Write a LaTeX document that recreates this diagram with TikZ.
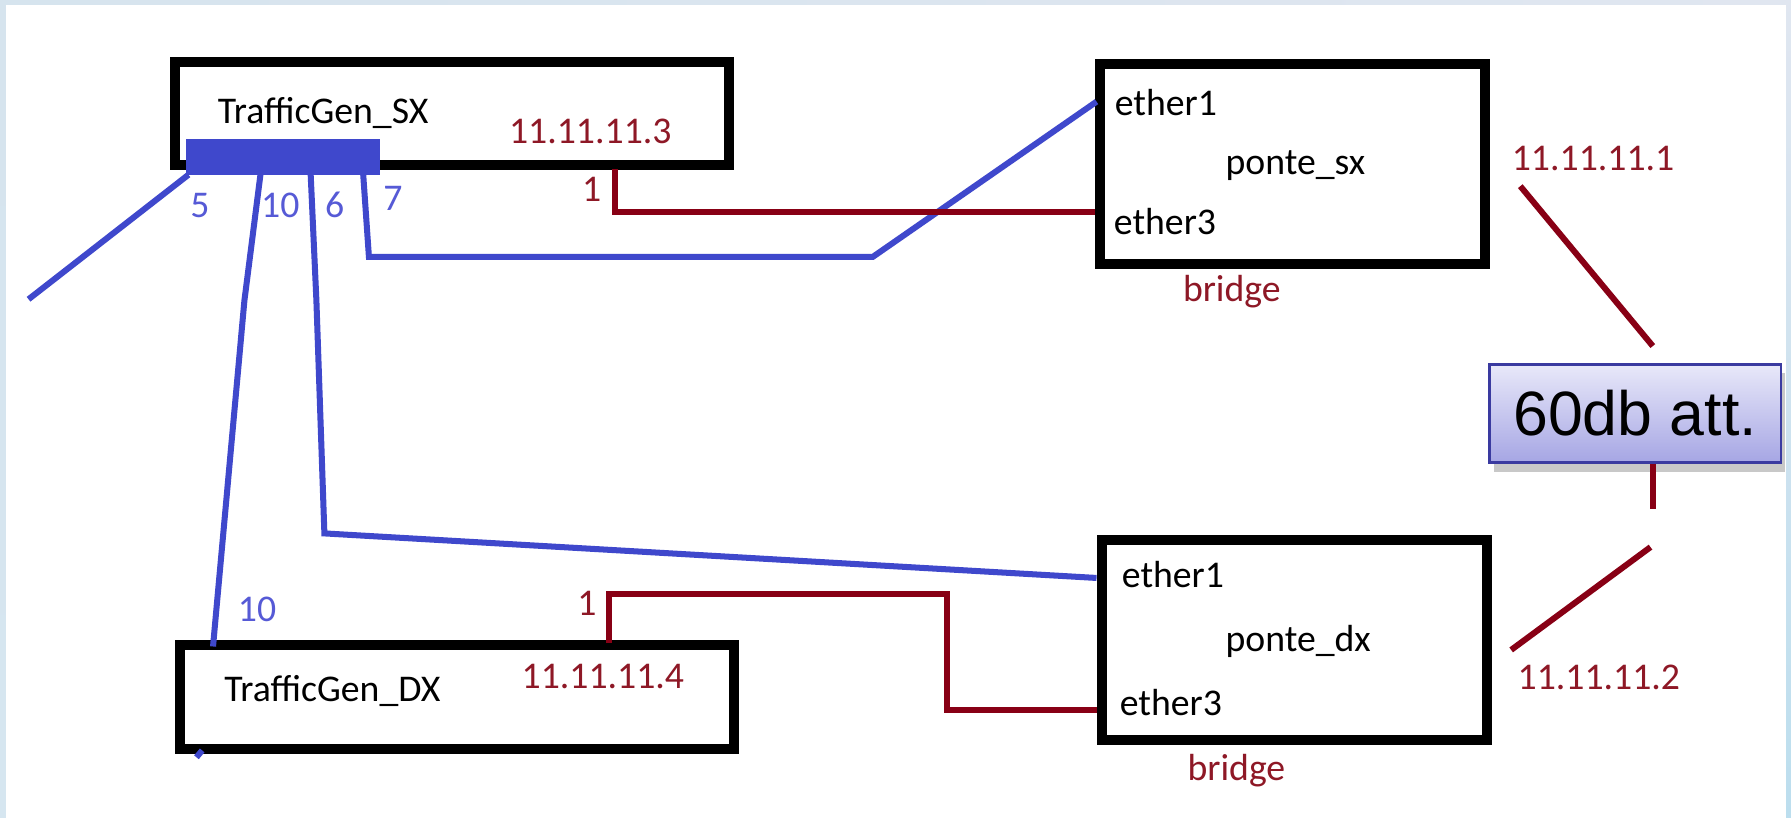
\documentclass[tikz,border=0pt]{standalone}
\usepackage{fontspec}
\setmainfont{Carlito}
\newfontfamily\arialfont{Liberation Sans}
\usetikzlibrary{calc,shadows}

\definecolor{paintblue}{RGB}{63,72,204}
\definecolor{portblue}{RGB}{86,90,214}
\definecolor{wirered}{RGB}{136,0,21}
\definecolor{labelred}{RGB}{142,24,38}
\definecolor{frameTop}{RGB}{214,228,238}
\definecolor{frameTopR}{RGB}{224,230,240}
\definecolor{frameBotR}{RGB}{188,222,238}
\definecolor{frameBotL}{RGB}{214,230,240}
\definecolor{attTop}{RGB}{232,232,249}
\definecolor{attBot}{RGB}{166,166,228}
\definecolor{attEdge}{RGB}{58,58,160}

\begin{document}
\begin{tikzpicture}[x=0.1mm,y=-0.1mm,
  devbox/.style={draw=black, line width=2.5pt, fill=white, inner sep=0pt},
  portstrip/.style={fill=paintblue, inner sep=0pt},
  bluewire/.style={draw=paintblue, line width=1.5pt, line join=miter},
  redwire/.style={draw=wirered, line width=1.5pt, line join=miter},
  txt/.style={font=\fontsize{9.4}{11}\selectfont, inner sep=0pt, anchor=base west},
  redtxt/.style={txt, text=labelred},
  porttxt/.style={txt, text=portblue},
  attbox/.style={draw=attEdge, line width=0.6pt, top color=attTop, bottom color=attBot,
    inner sep=0pt, font=\arialfont\fontsize{15.6}{18}\selectfont,
    drop shadow={shadow xshift=0.4mm, shadow yshift=-0.8mm, opacity=0.3, fill=black!70}}
]
\useasboundingbox (0,0) rectangle (1568,716);

% window frame around the drawing area
\shade[left color=frameTop, right color=frameTopR] (0,0) rectangle (1568,4.5);
\shade[top color=frameTop, bottom color=frameBotL] (0,0) rectangle (5.3,716);
\shade[top color=frameTopR, bottom color=frameBotR] (1563.5,0) rectangle (1568,716);
\fill[white] (5.3,4.5) rectangle (1563.5,716);

% devices
\node[devbox, minimum width=48.5mm, minimum height=9mm] (sxgen) at (396,99.5) {};
\node[devbox, minimum width=48.5mm, minimum height=9.1mm] (dxgen) at (399.8,610) {};
\node[devbox, minimum width=33.7mm, minimum height=17.5mm] (pontesx) at (1131.5,143.7) {};
\node[devbox, minimum width=33.7mm, minimum height=17.5mm] (pontedx) at (1133,560) {};
\node[attbox, minimum width=25.5mm, minimum height=8.6mm] (att) at (1431.5,362) {60db att.};

% wire end points
\coordinate (p5) at (165,153);
\coordinate (p5end) at (25,262);
\coordinate (p10) at (228,153);
\coordinate (p10mid) at (214,263);
\coordinate (dxp10) at (186.5,566);
\coordinate (p6) at (272,153);
\coordinate (p6mid) at (277,263);
\coordinate (p6turn) at (284,467);
\coordinate (dxe1) at (960,506);
\coordinate (p7) at (318,153);
\coordinate (p7turn) at (323,225);
\coordinate (p7bend) at (764,225);
\coordinate (sxe1) at (960,89);
\coordinate (sxp1) at (538,148);
\coordinate (sxe3) at (959,186);
\coordinate (dxp1) at (533,563);
\coordinate (dxturn) at (829,520);
\coordinate (dxe3) at (960,622);
\coordinate (sxant) at (1331,163);
\coordinate (atttop) at (1447,303);
\coordinate (attlow) at (1447,446);
\coordinate (dxant0) at (1445,479);
\coordinate (dxant) at (1323,569);
\coordinate (stubA) at (172,663);
\coordinate (stubB) at (177,657);

% blue ethernet cables
\draw[bluewire] (p5) -- (p5end);
\draw[bluewire] (p10) -- (p10mid) -- (dxp10);
\draw[bluewire] (p6) -- (p6mid) -- (p6turn) -- (dxe1);
\draw[bluewire] (p7) -- (p7turn) -- (p7bend) -- (sxe1);
\draw[bluewire] (stubA) -- (stubB);

% dark red bridge links
\draw[redwire] (sxp1) |- (sxe3);
\draw[redwire] (dxp1) |- (dxturn) -- (dxturn |- dxe3) -- (dxe3);
\draw[redwire] (sxant) -- (atttop);
\draw[redwire] (att.south -| attlow) -- (attlow);
\draw[redwire] (dxant0) -- (dxant);

% port block of the left generator
\node[portstrip, minimum width=17mm, minimum height=3.1mm] (ports) at (248,137.5) {};

% texts
\node[txt] (sxname) at (190,108) {TrafficGen\_SX};
\node[redtxt] (sxip) at (445,126) {11.11.11.3};
\node[porttxt] (l5) at (166,190) {5};
\node[porttxt] (l10) at (228,190) {10};
\node[porttxt] (l6) at (284,190) {6};
\node[porttxt] (l7) at (335,184) {7};
\node[redtxt] (l1a) at (509,176.6) {1};

\node[porttxt] (l10b) at (207.6,544) {10};
\node[redtxt] (l1b) at (504.7,538.5) {1};
\node[txt] (dxname) at (195.7,614.6) {TrafficGen\_DX};
\node[redtxt] (dxip) at (456,602.5) {11.11.11.4};

\node[txt] (sxeth1) at (975.3,100.7) {ether1};
\node[txt] (sxname2) at (1072.3,153.2) {ponte\_sx};
\node[txt] (sxeth3) at (974.5,205.7) {ether3};
\node[redtxt] (sxbr) at (1035,264) {bridge};
\node[redtxt] (ip1) at (1322.9,149.4) {11.11.11.1};

\node[txt] (dxeth1) at (981.5,514) {ether1};
\node[txt] (dxname2) at (1072.3,570.5) {ponte\_dx};
\node[txt] (dxeth3) at (979.7,626) {ether3};
\node[redtxt] (dxbr) at (1039,683) {bridge};
\node[redtxt] (ip2) at (1328,604) {11.11.11.2};
\end{tikzpicture}
\end{document}
